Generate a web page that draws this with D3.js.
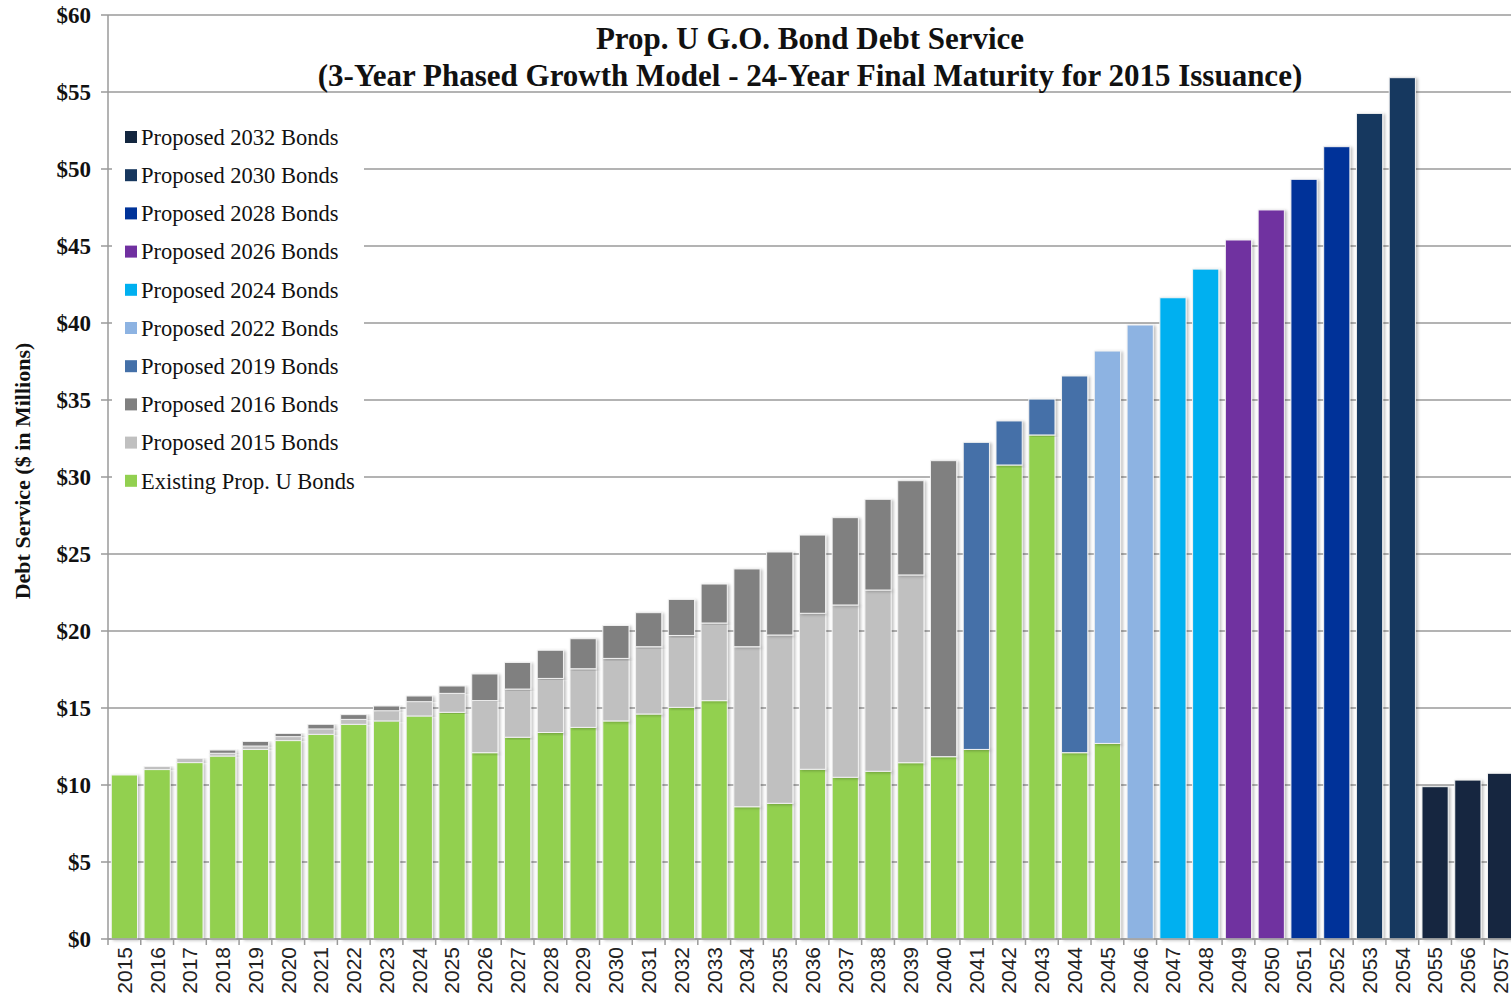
<!DOCTYPE html>
<html>
<head>
<meta charset="utf-8">
<script src="https://d3js.org/d3.v7.min.js"></script>
<style>
  body { margin: 0; background: #fff; }
</style>
</head>
<body>
<div id="chart"></div>
<script>
const years = d3.range(2015, 2058).map(String);

// $ millions per year
const existing = [10.65, 11.0, 11.45, 11.88, 12.31, 12.88, 13.29, 13.94, 14.16, 14.48,
  14.72, 12.1, 13.1, 13.41, 13.74, 14.16, 14.61, 15.04, 15.48, 8.59,
  8.81, 11.02, 10.5, 10.89, 11.45, 11.84, 12.31, 30.78, 32.73, 12.1,
  12.7, 0, 0, 0, 0, 0, 0, 0, 0, 0, 0, 0, 0];
const p2015 = [0, 0.2, 0.28, 0.18, 0.22, 0.26, 0.35, 0.32, 0.66, 0.93,
  1.23, 3.38, 3.13, 3.51, 3.81, 4.06, 4.37, 4.67, 5.04, 10.39,
  10.93, 10.13, 11.19, 11.77, 12.19, 0, 0, 0, 0, 0,
  0, 0, 0, 0, 0, 0, 0, 0, 0, 0, 0, 0, 0];
const p2016 = [0, 0, 0, 0.21, 0.3, 0.21, 0.3, 0.31, 0.31, 0.37,
  0.48, 1.73, 1.73, 1.83, 1.95, 2.14, 2.21, 2.34, 2.53, 5.05,
  5.39, 5.08, 5.67, 5.89, 6.12, 19.22, 0, 0, 0, 0,
  0, 0, 0, 0, 0, 0, 0, 0, 0, 0, 0, 0, 0];
const p2019 = [0, 0, 0, 0, 0, 0, 0, 0, 0, 0, 0, 0, 0, 0, 0, 0, 0, 0, 0, 0,
  0, 0, 0, 0, 0, 0, 19.94, 2.86, 2.33, 24.46,
  0, 0, 0, 0, 0, 0, 0, 0, 0, 0, 0, 0, 0];
const p2022 = [0, 0, 0, 0, 0, 0, 0, 0, 0, 0, 0, 0, 0, 0, 0, 0, 0, 0, 0, 0,
  0, 0, 0, 0, 0, 0, 0, 0, 0, 0,
  25.48, 39.87, 0, 0, 0, 0, 0, 0, 0, 0, 0, 0, 0];
const p2024 = [0, 0, 0, 0, 0, 0, 0, 0, 0, 0, 0, 0, 0, 0, 0, 0, 0, 0, 0, 0,
  0, 0, 0, 0, 0, 0, 0, 0, 0, 0,
  0, 0, 41.64, 43.5, 0, 0, 0, 0, 0, 0, 0, 0, 0];
const p2026 = [0, 0, 0, 0, 0, 0, 0, 0, 0, 0, 0, 0, 0, 0, 0, 0, 0, 0, 0, 0,
  0, 0, 0, 0, 0, 0, 0, 0, 0, 0,
  0, 0, 0, 0, 45.39, 47.34, 0, 0, 0, 0, 0, 0, 0];
const p2028 = [0, 0, 0, 0, 0, 0, 0, 0, 0, 0, 0, 0, 0, 0, 0, 0, 0, 0, 0, 0,
  0, 0, 0, 0, 0, 0, 0, 0, 0, 0,
  0, 0, 0, 0, 0, 0, 49.33, 51.45, 0, 0, 0, 0, 0];
const p2030 = [0, 0, 0, 0, 0, 0, 0, 0, 0, 0, 0, 0, 0, 0, 0, 0, 0, 0, 0, 0,
  0, 0, 0, 0, 0, 0, 0, 0, 0, 0,
  0, 0, 0, 0, 0, 0, 0, 0, 53.61, 55.93, 0, 0, 0];
const p2032 = [0, 0, 0, 0, 0, 0, 0, 0, 0, 0, 0, 0, 0, 0, 0, 0, 0, 0, 0, 0,
  0, 0, 0, 0, 0, 0, 0, 0, 0, 0,
  0, 0, 0, 0, 0, 0, 0, 0, 0, 0, 9.89, 10.32, 10.76];

// stacking order, bottom first
const seriesKeys = ["existing", "p2015", "p2016", "p2019", "p2022", "p2024", "p2026", "p2028", "p2030", "p2032"];
const seriesNames = ["Existing Prop. U Bonds", "Proposed 2015 Bonds", "Proposed 2016 Bonds",
  "Proposed 2019 Bonds", "Proposed 2022 Bonds", "Proposed 2024 Bonds", "Proposed 2026 Bonds",
  "Proposed 2028 Bonds", "Proposed 2030 Bonds", "Proposed 2032 Bonds"];
const seriesColors = ["#92d050", "#c0c0c0", "#808080", "#4470a8", "#8db3e2",
  "#00b0f0", "#7030a0", "#003399", "#17375e", "#13263f"];
const yTicks = [0, 5, 10, 15, 20, 25, 30, 35, 40, 45, 50, 55, 60];

function init() {
  const width = 1511;
  const height = 1003;
  const left = 108, right = 1517, top = 15, bottom = 939;
  const serif = "'Liberation Serif', 'Times New Roman', serif";

  const table = years.map((y, i) => ({
    year: y,
    existing: existing[i], p2015: p2015[i], p2016: p2016[i], p2019: p2019[i],
    p2022: p2022[i], p2024: p2024[i], p2026: p2026[i], p2028: p2028[i],
    p2030: p2030[i], p2032: p2032[i]
  }));

  const stacked = d3.stack().keys(seriesKeys)(table);

  const x = d3.scaleBand().domain(years).range([left, right]).paddingInner(0.2).paddingOuter(0.1);
  const y = d3.scaleLinear().domain([0, 60]).range([bottom, top]);
  const color = d3.scaleOrdinal().domain(seriesKeys).range(seriesColors);

  const svg = d3.select("#chart")
    .append("svg")
    .attr("width", width)
    .attr("height", height)
    .style("display", "block");

  const defs = svg.append("defs");
  defs.append("filter")
    .attr("id", "shadow")
    .attr("x", "-20%").attr("y", "-5%")
    .attr("width", "150%").attr("height", "110%")
    .append("feDropShadow")
    .attr("dx", 2).attr("dy", 1)
    .attr("stdDeviation", 1.5)
    .attr("flood-color", "#000")
    .attr("flood-opacity", 0.25);

  // gridlines + left ticks
  svg.append("g")
    .selectAll("line")
    .data(yTicks)
    .join("line")
    .attr("x1", left - 7)
    .attr("x2", width)
    .attr("y1", d => y(d))
    .attr("y2", d => y(d))
    .attr("stroke", "#9a9a9a")
    .attr("stroke-width", 1.5);

  svg.append("g")
    .selectAll("text")
    .data(yTicks)
    .join("text")
    .attr("x", 91)
    .attr("y", d => y(d))
    .attr("dy", "0.35em")
    .attr("text-anchor", "end")
    .style("font-family", serif)
    .style("font-weight", "bold")
    .style("font-size", "23px")
    .attr("fill", "#111")
    .text(d => "$" + d);

  // bars
  const layer = svg.append("g")
    .selectAll("g")
    .data(stacked)
    .join("g")
    .attr("fill", d => color(d.key));

  layer.selectAll("rect")
    .data(d => d.filter(s => s[1] - s[0] > 0))
    .join("rect")
    .attr("x", d => x(d.data.year))
    .attr("width", x.bandwidth())
    .attr("y", d => y(d[1]))
    .attr("height", d => y(d[0]) - y(d[1]))
    .attr("stroke", "#f2f2f2")
    .attr("stroke-width", 1)
    .attr("filter", "url(#shadow)");

  // axis lines
  svg.append("line")
    .attr("x1", left).attr("x2", left)
    .attr("y1", top).attr("y2", bottom)
    .attr("stroke", "#9a9a9a").attr("stroke-width", 1.5);
  svg.append("line")
    .attr("x1", left).attr("x2", width)
    .attr("y1", bottom).attr("y2", bottom)
    .attr("stroke", "#9a9a9a").attr("stroke-width", 1.5);

  // ticks between categories
  svg.append("g")
    .selectAll("line")
    .data(years)
    .join("line")
    .attr("x1", d => x(d) - x.step() * x.paddingInner() / 2)
    .attr("x2", d => x(d) - x.step() * x.paddingInner() / 2)
    .attr("y1", bottom)
    .attr("y2", bottom + 6)
    .attr("stroke", "#9a9a9a")
    .attr("stroke-width", 1.5);

  svg.append("g")
    .selectAll("text")
    .data(years)
    .join("text")
    .attr("transform", d => "translate(" + (x(d) + x.bandwidth() / 2) + "," + (bottom + 8) + ") rotate(-90)")
    .attr("dy", "0.35em")
    .attr("text-anchor", "end")
    .style("font-family", "'Liberation Sans', Arial, sans-serif")
    .style("font-size", "21px")
    .attr("fill", "#222")
    .text(d => d);

  // y title
  svg.append("text")
    .attr("transform", "translate(30,471) rotate(-90)")
    .attr("text-anchor", "middle")
    .style("font-family", serif)
    .style("font-weight", "bold")
    .style("font-size", "22px")
    .attr("fill", "#111")
    .text("Debt Service ($ in Millions)");

  // chart title
  const title = svg.append("text")
    .attr("text-anchor", "middle")
    .style("font-family", serif)
    .style("font-weight", "bold")
    .style("font-size", "31px")
    .attr("fill", "#111");
  title.append("tspan").attr("x", 810).attr("y", 49).text("Prop. U G.O. Bond Debt Service");
  title.append("tspan").attr("x", 810).attr("y", 86).text("(3-Year Phased Growth Model - 24-Year Final Maturity for 2015 Issuance)");

  // legend (top entry is the last series)
  const legend = svg.append("g");
  legend.append("rect")
    .attr("x", 112).attr("y", 117)
    .attr("width", 252).attr("height", 382)
    .attr("fill", "#fff");

  const items = legend.selectAll("g.item")
    .data(seriesKeys.slice().reverse())
    .join("g")
    .attr("class", "item")
    .attr("transform", (d, i) => "translate(125," + (137 + i * 38.2) + ")");

  items.append("rect")
    .attr("x", 0).attr("y", -6)
    .attr("width", 12).attr("height", 12)
    .attr("fill", d => color(d));

  items.append("text")
    .attr("x", 16)
    .attr("dy", "0.35em")
    .style("font-family", serif)
    .style("font-size", "22.5px")
    .attr("fill", "#111")
    .text(d => seriesNames[seriesKeys.indexOf(d)]);
}
init();
</script>
</body>
</html>
